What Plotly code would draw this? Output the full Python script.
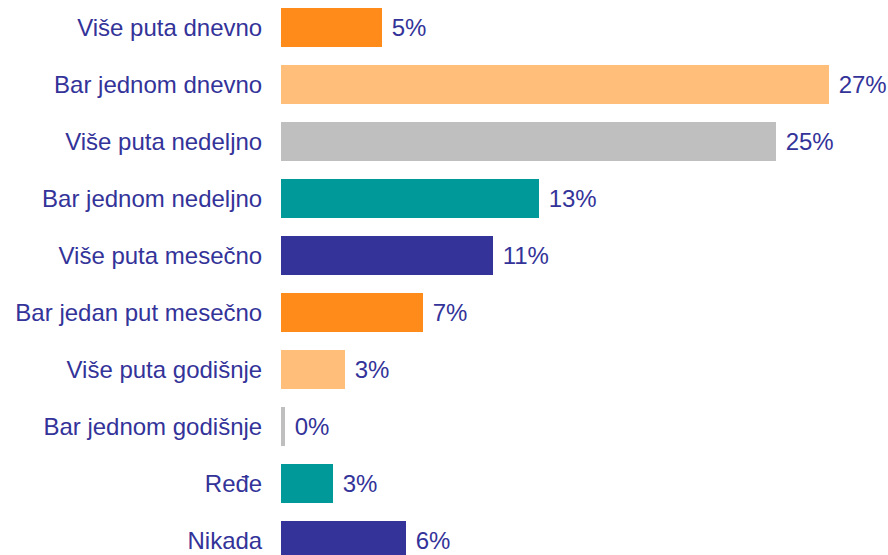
import plotly.graph_objects as go

categories = [
    "Više puta dnevno",
    "Bar jednom dnevno",
    "Više puta nedeljno",
    "Bar jednom nedeljno",
    "Više puta mesečno",
    "Bar jedan put mesečno",
    "Više puta godišnje",
    "Bar jednom godišnje",
    "Ređe",
    "Nikada",
]
values = [5.05, 27.4, 24.75, 12.9, 10.6, 7.1, 3.2, 0.2, 2.6, 6.25]
colors = ["#FF8C1A", "#FFBF7A", "#BFBFBF", "#009999", "#333399",
          "#FF8C1A", "#FFBF7A", "#BFBFBF", "#009999", "#333399"]

text_color = "#333399"
font_family = "Liberation Sans, Arial, Helvetica, sans-serif"

fig = go.Figure(
    go.Bar(
        x=values,
        y=categories,
        orientation="h",
        marker=dict(color=colors, line=dict(width=0)),
        texttemplate="\u00a0%{x:.0f}%",
        textposition="outside",
        textfont=dict(size=24, color=text_color, family=font_family),
        cliponaxis=False,
        hoverinfo="skip",
    )
)

fig.update_layout(
    width=888,
    height=555,
    margin=dict(l=281, r=0, t=0, b=0, autoexpand=False),
    paper_bgcolor="white",
    plot_bgcolor="white",
    bargap=0.316,
    showlegend=False,
    font=dict(family=font_family, size=24, color=text_color),
    uniformtext=dict(minsize=24, mode="show"),
)
fig.update_xaxes(range=[0, 30.35], visible=False, showgrid=False,
                 zeroline=False, automargin=False)
fig.update_yaxes(
    range=[9.254, -0.482],
    automargin=False,
    showgrid=False,
    zeroline=False,
    showline=False,
    ticks="outside",
    ticklen=13,
    tickcolor="rgba(0,0,0,0)",
    tickfont=dict(size=24, color=text_color, family=font_family),
)

fig.write_html(
    "out.html",
    config={"displayModeBar": False, "staticPlot": True},
    post_script="document.body.style.margin='0px';document.body.style.overflow='hidden';",
)
